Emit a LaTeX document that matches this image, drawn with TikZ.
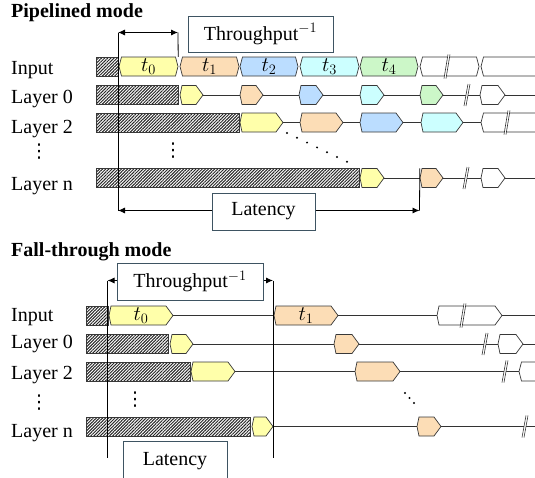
\documentclass[tikz,border=0pt]{standalone}
\usepackage{fontspec}
\setmainfont{Liberation Serif}
\newfontfamily\dotsfont{DejaVu Sans}
\usetikzlibrary{arrows.meta, patterns.meta}

\definecolor{tyellow}{RGB}{255,255,170}
\definecolor{tpeach}{RGB}{252,221,182}
\definecolor{tblue}{RGB}{187,221,255}
\definecolor{tcyan}{RGB}{204,255,255}
\definecolor{tgreen}{RGB}{204,247,200}
\definecolor{edgegray}{RGB}{56,56,56}
\definecolor{boxslate}{RGB}{62,84,98}

\tikzset{
  tokline/.style={draw=edgegray, line width=0.7pt},
  tokbox/.style={inner sep=0pt, minimum height=19pt},
  hatchbox/.style={draw=edgegray, line width=0.7pt, inner sep=0pt, minimum height=19pt,
    pattern={Lines[angle=45,distance=2.2pt,line width=1pt]}, pattern color=black!85},
  wire/.style={draw=black!80, line width=0.8pt},
  brkline/.style={draw=black!80, line width=0.6pt},
  guide/.style={draw=black, line width=0.8pt},
  dimarrow/.style={guide, -{Latex[length=7pt,width=6pt]}},
  dimboth/.style={guide, {Latex[length=7pt,width=6pt]}-{Latex[length=7pt,width=6pt]}},
  notebox/.style={draw=boxslate, line width=1pt, fill=white, inner sep=0pt},
  rowlabel/.style={anchor=base west, inner sep=0pt},
  dotsmark/.style={inner sep=0pt, font=\fontsize{19}{22}\selectfont\dotsfont},
  modetitle/.style={rowlabel, font=\fontsize{20}{24}\selectfont\bfseries},
}

% hatched (busy) stretch: name, left, right, row
\newcommand{\hatchblk}[4]{%
  \node[hatchbox, minimum width={#3-#2}] (#1) at ({(#2+#3)/2},#4) {};}
% token in a layer row, pointed at the right: name, left, right, row, colour, text
\newcommand{\laytok}[6]{%
  \filldraw[tokline, fill=#5] (#2+2,#4-9.5) -- (#3-7,#4-9.5) -- (#3,#4) -- (#3-7,#4+9.5)
    -- (#2+2,#4+9.5) -- (#2,#4) -- cycle;
  \node[tokbox, minimum width={#3-#2}] (#1) at ({(#2+#3)/2},#4) {#6};}
% token on the input bus, bevelled both ends
\newcommand{\bustok}[6]{%
  \filldraw[tokline, fill=#5] (#2+2.5,#4-9.5) -- (#3-2.5,#4-9.5) -- (#3,#4) -- (#3-2.5,#4+9.5)
    -- (#2+2.5,#4+9.5) -- (#2,#4) -- cycle;
  \node[tokbox, minimum width={#3-#2}] (#1) at ({(#2+#3)/2},#4) {#6};}
% token running off the right edge
\newcommand{\busopen}[5]{%
  \fill[#5] (#3,#4-9.5) -- (#2+2.5,#4-9.5) -- (#2,#4) -- (#2+2.5,#4+9.5) -- (#3,#4+9.5) -- cycle;
  \draw[tokline] (#3,#4-9.5) -- (#2+2.5,#4-9.5) -- (#2,#4) -- (#2+2.5,#4+9.5) -- (#3,#4+9.5);
  \node[tokbox, minimum width={#3-#2}] (#1) at ({(#2+#3)/2},#4) {};}
% break mark: x, row, half height
\newcommand{\brkmark}[3]{%
  \fill[white] (#1-3,#2+#3) -- (#1-1,#2+#3) -- (#1+3,#2-#3) -- (#1+1,#2-#3) -- cycle;
  \draw[brkline] (#1-3,#2+#3) -- (#1+1,#2-#3) (#1-1,#2+#3) -- (#1+3,#2-#3);}

\begin{document}
\begin{tikzpicture}[x=1pt, y=-1pt, font=\fontsize{20}{24}\selectfont]
  \clip (0,0) rectangle (535,477);

  % ---------------- Pipelined mode ----------------
  \node[modetitle] (p_title) at (11,17.5) {Pipelined mode};
  \node[rowlabel] (p_lab_in) at (11,74) {Input};
  \node[rowlabel] (p_lab_l0) at (11,103.5) {Layer 0};
  \node[rowlabel] (p_lab_l2) at (11,133) {Layer 2};
  \node[dotsmark] (p_lab_dots) at (39,152) {⋮};
  \node[rowlabel] (p_lab_ln) at (11,190.5) {Layer n};

  % input bus
  \hatchblk{p_in_h}{96}{118}{66.5}
  \bustok{p_in_t0}{119}{178}{66.5}{tyellow}{$t_0$}
  \bustok{p_in_t1}{180}{239}{66.5}{tpeach}{$t_1$}
  \bustok{p_in_t2}{240}{298}{66.5}{tblue}{$t_2$}
  \bustok{p_in_t3}{300}{359}{66.5}{tcyan}{$t_3$}
  \bustok{p_in_t4}{360}{418}{66.5}{tgreen}{$t_4$}
  \bustok{p_in_t5}{420}{479}{66.5}{white}{}
  \busopen{p_in_t6}{481}{545}{66.5}{white}
  \brkmark{447}{66.5}{12}

  % layer 0
  \hatchblk{p_l0_h}{96}{178}{95}
  \laytok{p_l0_t0}{180}{203}{95}{tyellow}{}
  \laytok{p_l0_t1}{240}{263}{95}{tpeach}{}
  \laytok{p_l0_t2}{299}{323}{95}{tblue}{}
  \laytok{p_l0_t3}{360}{384}{95}{tcyan}{}
  \laytok{p_l0_t4}{420}{443}{95}{tgreen}{}
  \laytok{p_l0_t5}{480}{505}{95}{white}{}
  \coordinate (p_l0_end) at (540,95);
  \foreach \a/\b in {t0/t1, t1/t2, t2/t3, t3/t4, t4/t5}
    \draw[wire] (p_l0_\a.east) -- (p_l0_\b.west);
  \draw[wire] (p_l0_t5.east) -- (p_l0_end);
  \brkmark{467}{95}{11}

  % layer 2
  \hatchblk{p_l2_h}{96}{239}{122.5}
  \laytok{p_l2_t0}{240}{283}{122.5}{tyellow}{}
  \laytok{p_l2_t1}{300}{343}{122.5}{tpeach}{}
  \laytok{p_l2_t2}{360}{403}{122.5}{tblue}{}
  \laytok{p_l2_t3}{421}{463}{122.5}{tcyan}{}
  \busopen{p_l2_t4}{481}{545}{122.5}{white}
  \foreach \a/\b in {t0/t1, t1/t2, t2/t3, t3/t4}
    \draw[wire] (p_l2_\a.east) -- (p_l2_\b.west);
  \brkmark{507}{122.5}{12}

  \node[dotsmark] (p_mid_dots) at (173,151) {⋮};
  \foreach \i in {0,...,6}
    \fill ({287+\i*10},{133+\i*4.8}) circle (1.1);

  % layer n
  \hatchblk{p_ln_h}{96}{359}{178}
  \laytok{p_ln_t0}{360}{384}{178}{tyellow}{}
  \laytok{p_ln_t1}{420}{443}{178}{tpeach}{}
  \laytok{p_ln_t2}{481}{505}{178}{white}{}
  \coordinate (p_ln_end) at (540,178);
  \foreach \a/\b in {t0/t1, t1/t2}
    \draw[wire] (p_ln_\a.east) -- (p_ln_\b.west);
  \draw[wire] (p_ln_t2.east) -- (p_ln_end);
  \brkmark{466}{178}{11}

  % throughput and latency marks
  \node[notebox, minimum width=145pt, minimum height=36pt] (p_thr) at (260.5,34) {Throughput$^{-1}$};
  \node[notebox, minimum width=103pt, minimum height=37pt] (p_lat) at (263.5,211.5) {Latency};
  \coordinate (p_guide_top) at (118,32.5);
  \coordinate (p_thr_tip) at (178,32.5);
  \coordinate (p_lat_tip_l) at (118,210.5);
  \coordinate (p_lat_tip_r) at (419.5,210.5);
  \draw[dimboth] (p_guide_top) -- (p_thr_tip);
  \draw[guide] (p_guide_top) -- (p_lat_tip_l);
  \draw[guide] (p_thr_tip) -- (p_in_t0.north east);
  \draw[guide] (p_lat_tip_r) -- (p_ln_t1.north west);
  \draw[dimarrow] (p_lat.west |- p_lat_tip_l) -- (p_lat_tip_l);
  \draw[dimarrow] (p_lat.east |- p_lat_tip_r) -- (p_lat_tip_r);

  % ---------------- Fall-through mode ----------------
  \node[modetitle] (f_title) at (11,256.5) {Fall-through mode};
  \node[rowlabel] (f_lab_in) at (11,321) {Input};
  \node[rowlabel] (f_lab_l0) at (11,348.5) {Layer 0};
  \node[rowlabel] (f_lab_l2) at (11,379) {Layer 2};
  \node[dotsmark] (f_lab_dots) at (39,403) {⋮};
  \node[rowlabel] (f_lab_ln) at (11,437) {Layer n};

  % input bus
  \hatchblk{f_in_h}{86}{108}{315.5}
  \laytok{f_in_t0}{109}{173}{315.5}{tyellow}{$t_0$}
  \laytok{f_in_t1}{274}{338}{315.5}{tpeach}{$t_1$}
  \laytok{f_in_t2}{437}{502}{315.5}{white}{}
  \coordinate (f_in_end) at (540,315.5);
  \foreach \a/\b in {t0/t1, t1/t2}
    \draw[wire] (f_in_\a.east) -- (f_in_\b.west);
  \draw[wire] (f_in_t2.east) -- (f_in_end);
  \brkmark{463}{315.5}{12}

  % layer 0
  \hatchblk{f_l0_h}{86}{168}{344}
  \laytok{f_l0_t0}{170}{193}{344}{tyellow}{}
  \laytok{f_l0_t1}{334}{359}{344}{tpeach}{}
  \laytok{f_l0_t2}{498}{523}{344}{white}{}
  \coordinate (f_l0_end) at (540,344);
  \foreach \a/\b in {t0/t1, t1/t2}
    \draw[wire] (f_l0_\a.east) -- (f_l0_\b.west);
  \draw[wire] (f_l0_t2.east) -- (f_l0_end);
  \brkmark{485}{344}{11}

  % layer 2
  \hatchblk{f_l2_h}{86}{190}{371.5}
  \laytok{f_l2_t0}{191}{235}{371.5}{tyellow}{}
  \laytok{f_l2_t1}{355}{400}{371.5}{tpeach}{}
  \busopen{f_l2_t2}{519}{545}{371.5}{white}
  \foreach \a/\b in {t0/t1, t1/t2}
    \draw[wire] (f_l2_\a.east) -- (f_l2_\b.west);
  \brkmark{505}{371.5}{11}

  \node[dotsmark] (f_mid_dots) at (135,400) {⋮};
  \foreach \i in {0,1,2}
    \fill ({405+\i*4.5},{393+\i*5}) circle (1.1);

  % layer n
  \hatchblk{f_ln_h}{86}{250}{426.5}
  \laytok{f_ln_t0}{252}{273}{426.5}{tyellow}{}
  \laytok{f_ln_t1}{417}{441}{426.5}{tpeach}{}
  \coordinate (f_ln_end) at (540,426.5);
  \draw[wire] (f_ln_t0.east) -- (f_ln_t1.west);
  \draw[wire] (f_ln_t1.east) -- (f_ln_end);
  \brkmark{525}{426.5}{11}

  % throughput and latency marks
  \node[notebox, minimum width=146pt, minimum height=37pt] (f_thr) at (190,281.5) {Throughput$^{-1}$};
  \node[notebox, minimum width=104pt, minimum height=41pt] (f_lat) at (175,461.5) {Latency};
  \coordinate (f_tip_l) at (107.5,280.5);
  \coordinate (f_tip_r) at (273,280.5);
  \coordinate (f_foot_l) at (107.5,458);
  \coordinate (f_foot_r) at (273,458);
  \draw[dimarrow] (f_thr.west |- f_tip_l) -- (f_tip_l);
  \draw[dimarrow] (f_thr.east |- f_tip_r) -- (f_tip_r);
  \draw[guide] (f_tip_l) -- (f_foot_l);
  \draw[guide] (f_tip_r) -- (f_foot_r);
\end{tikzpicture}
\end{document}
